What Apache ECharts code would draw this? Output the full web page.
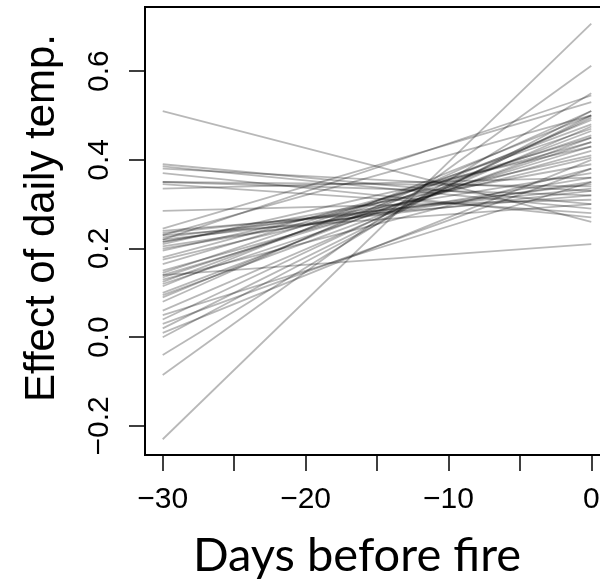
<!DOCTYPE html>
<html>
<head>
<meta charset="utf-8">
<script src="https://cdn.jsdelivr.net/npm/echarts@6/dist/echarts.min.js"></script>
<style>
  html, body { margin: 0; padding: 0; background: #fff; }
  #chart { width: 600px; height: 583px; }
</style>
</head>
<body>
<div id="chart"></div>
<script>
// value of each fitted line at day -30 and at day 0
var startVals = [0.51, 0.39, 0.385, 0.38, 0.37, 0.35, 0.35, 0.345, 0.335, 0.285,
  0.245, 0.24, 0.235, 0.23, 0.23, 0.225, 0.22, 0.22, 0.215, 0.215, 0.21, 0.205, 0.20, 0.195,
  0.18, 0.175, 0.165, 0.15, 0.145, 0.14, 0.14, 0.135, 0.13, 0.125, 0.12, 0.115,
  0.10, 0.095, 0.09, 0.08, 0.06, 0.05, 0.04, 0.03, 0.02, 0.01, 0.0,
  -0.04, -0.085, -0.23];
var endVals = [0.26, 0.30, 0.29, 0.33, 0.27, 0.32, 0.34, 0.28, 0.36, 0.31,
  0.53, 0.32, 0.335, 0.50, 0.30, 0.345, 0.545, 0.33, 0.37, 0.39, 0.43, 0.35, 0.36, 0.41,
  0.44, 0.405, 0.45, 0.42, 0.47, 0.21, 0.43, 0.455, 0.38, 0.48, 0.44, 0.50,
  0.465, 0.45, 0.49, 0.51, 0.475, 0.35, 0.495, 0.38, 0.50, 0.40, 0.51,
  0.55, 0.612, 0.707];
var dayStart = -30;
var dayEnd = 0;
var xTicks = [-30, -25, -20, -15, -10, -5, 0];
var xLabels = [-30, -20, -10, 0];
var yTicks = [-0.2, 0, 0.2, 0.4, 0.6];

var chart = echarts.init(document.getElementById('chart'), null, { renderer: 'canvas' });

var series = [];
for (var i = 0; i < startVals.length; i++) {
  series.push({
    type: 'line',
    data: [[dayStart, startVals[i]], [dayEnd, endVals[i]]],
    symbol: 'none',
    silent: true,
    lineStyle: { color: 'rgba(0,0,0,0.28)', width: 1.8 }
  });
}

function minus(s) {
  return String(s).replace('-', '\u2212');
}

var option = {
  animation: false,
  grid: {
    show: true,
    left: 145,
    top: 7,
    width: 464,
    height: 448,
    outerBoundsMode: 'none',
    containLabel: false,
    borderColor: '#000',
    borderWidth: 2
  },
  xAxis: {
    type: 'value',
    min: -31.24,
    max: 1.24,
    axisLine: { show: false, onZero: false },
    splitLine: { show: false },
    axisTick: {
      show: true,
      customValues: xTicks,
      length: 16,
      lineStyle: { color: '#000', width: 1.5 }
    },
    axisLabel: {
      customValues: xLabels,
      formatter: function (v) { return minus(v); },
      fontFamily: 'Liberation Sans',
      fontSize: 30,
      color: '#000',
      margin: 30
    }
  },
  yAxis: {
    type: 'value',
    min: -0.2655,
    max: 0.7445,
    axisLine: { show: false, onZero: false },
    splitLine: { show: false },
    axisTick: {
      show: true,
      customValues: yTicks,
      length: 16,
      lineStyle: { color: '#000', width: 1.5 }
    },
    axisLabel: {
      customValues: yTicks,
      rotate: 90,
      formatter: function (v) { return minus(v.toFixed(1)); },
      fontFamily: 'Liberation Sans',
      fontSize: 30,
      color: '#000',
      margin: 30
    }
  },
  graphic: [
    {
      type: 'text',
      x: 42,
      y: 218,
      rotation: Math.PI / 2,
      style: {
        text: 'Effect of daily temp.',
        fontFamily: 'Liberation Sans',
        fontSize: 42,
        fill: '#000',
        align: 'center',
        verticalAlign: 'middle'
      }
    },
    {
      type: 'text',
      x: 357,
      y: 556,
      style: {
        text: 'Days before fire',
        fontFamily: 'Lato',
        fontSize: 47,
        fill: '#000',
        align: 'center',
        verticalAlign: 'middle'
      }
    }
  ],
  series: series
};

chart.setOption(option);
</script>
</body>
</html>
